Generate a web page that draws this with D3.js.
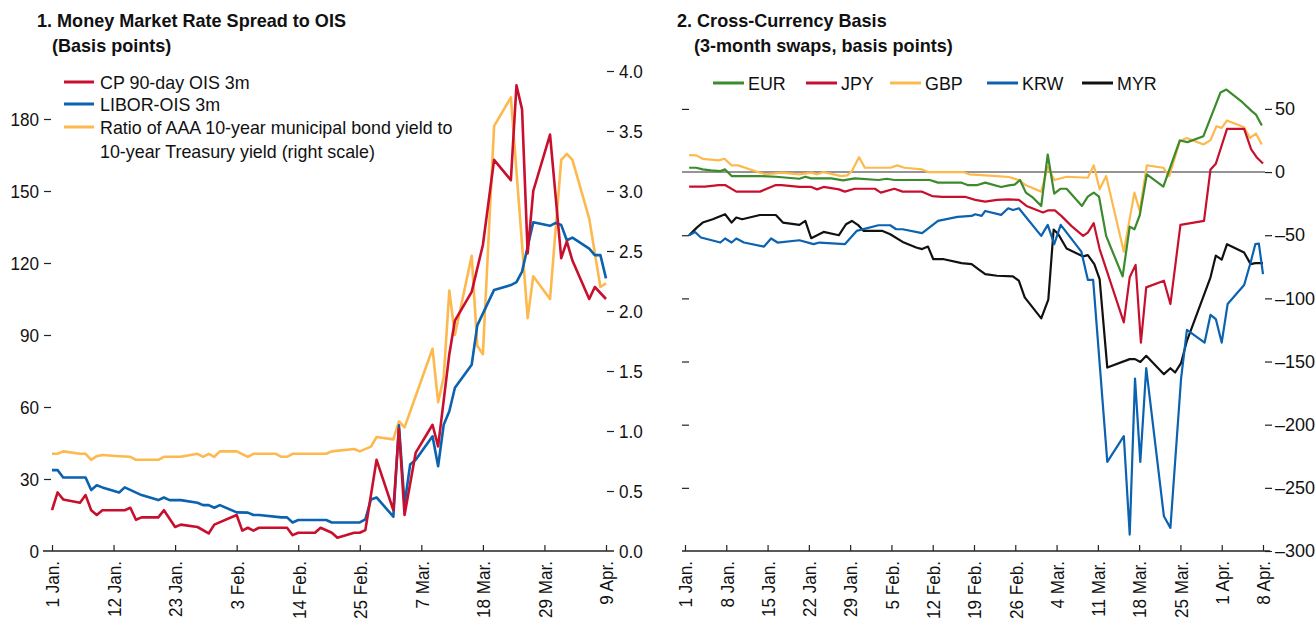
<!DOCTYPE html>
<html>
<head>
<meta charset="utf-8">
<script src="https://cdn.jsdelivr.net/npm/d3@7"></script>
<style>
  body { margin: 0; background: #fff; }
  svg text { font-family: "Liberation Sans", Arial, sans-serif; fill: #111; }
  .title { font-weight: bold; font-size: 19px; }
  .tick text { font-size: 19px; }
  .tick line { stroke: #222; stroke-width: 1.2; }
  .legend { font-size: 19px; }
  .ccRight .tick text { font-size: 18px; }
</style>
</head>
<body>
<div id="chart"></div>
<script>
// ---- panel 1: days counted from 1 Jan 2020 ----
var mmTickDays = [0, 11, 22, 33, 44, 55, 66, 77, 88, 99];
var mmTickLabels = ['1 Jan.', '12 Jan.', '23 Jan.', '3 Feb.', '14 Feb.', '25 Feb.', '7 Mar.', '18 Mar.', '29 Mar.', '9 Apr.'];

var cpDay = [0,1,2,5,6,7,8,9,13,14,15,16,19,20,22,23,26,28,29,33,34,35,36,37,42,43,44,47,48,50,51,54,55,56,58,61,62,63,65,68,69,71,72,75,77,79,82,83,84,85,86,89,91,92,93,96,97,99];
var cpVal = [17,24.4,21.5,20.1,23.3,17,15,17,17,18,13,14,14,17,10,11,10,7.3,11,15,8.5,9.7,8.5,9.7,9.7,6.6,7.6,7.6,9.7,7.6,5.5,7.6,7.6,8.7,38,17,51,15,41,52.6,43.6,82,96,108,127.5,163,154.5,194,184,124,150,173.5,122,129,121,105,110,105];

var liborDay = [0,1,2,6,7,8,9,12,13,16,19,20,21,23,26,27,28,29,30,33,35,36,37,41,42,43,44,49,50,55,56,57,58,61,62,63,64,65,68,69,70,71,72,75,76,79,82,83,84,85,86,89,90,91,92,93,96,97,98,99];
var liborVal = [33.7,33.7,30.6,30.6,25.4,27.4,26.5,24.4,26.5,23.3,21.2,22.3,21.2,21.2,20.1,19.1,19.1,18,19.1,16.1,16,15,15,14,14,11.9,12.9,12.9,11.9,11.9,13.2,21.5,22.3,14.3,52.4,19.4,36,38,47.8,35.3,52.6,58.2,68,77.6,94,108.8,110.8,112,116.4,126.8,137,135.5,136.7,135.8,129.5,130.6,126,123.3,123.3,113.6];

var ratioDay = [0,1,2,5,6,7,8,9,12,14,15,19,20,23,26,27,28,29,30,33,35,36,40,41,42,43,49,50,54,55,57,58,61,62,63,68,69,70,71,72,75,76,77,79,82,85,86,89,91,92,93,96,98,99];
var ratioVal = [0.81,0.81,0.83,0.81,0.81,0.76,0.79,0.8,0.79,0.785,0.76,0.76,0.785,0.785,0.81,0.785,0.81,0.785,0.83,0.83,0.785,0.81,0.81,0.785,0.785,0.81,0.81,0.83,0.85,0.83,0.87,0.95,0.93,1.08,1.03,1.685,1.24,1.45,2.17,1.8,2.46,1.71,1.64,3.54,3.78,1.94,2.29,2.1,3.26,3.31,3.26,2.77,2.2,2.23];

var mmNames = ['CP 90-day OIS 3m', 'LIBOR-OIS 3m', 'Ratio of AAA 10-year municipal bond yield to', '10-year Treasury yield (right scale)'];
var mmLeftTicks = [0, 30, 60, 90, 120, 150, 180];
var mmRightTicks = [0, 0.5, 1, 1.5, 2, 2.5, 3, 3.5, 4];

// ---- panel 2 ----
var ccTickDays = [0, 7, 14, 21, 28, 35, 42, 49, 56, 63, 70, 77, 84, 91, 98];
var ccTickLabels = ['1 Jan.', '8 Jan.', '15 Jan.', '22 Jan.', '29 Jan.', '5 Feb.', '12 Feb.', '19 Feb.', '26 Feb.', '4 Mar.', '11 Mar.', '18 Mar.', '25 Mar.', '1 Apr.', '8 Apr.'];
var ccTicks = [-300, -250, -200, -150, -100, -50, 0, 50];
var ccNames = ['EUR', 'JPY', 'GBP', 'KRW', 'MYR'];

var eurDay = [0.7,1.9,3,4.4,6,6.8,7.9,12.7,15.4,19.4,20.4,21.4,24.8,26.8,28.8,32.8,34.2,35.5,41.5,42.9,46.9,47.9,49.6,50.9,53.6,54.9,55.9,56.8,57.8,59,60.4,61.5,62.6,63.7,64.7,67.3,68.3,69.3,70.2,71.4,74.2,75.4,76.2,77.1,78.3,81.1,83.9,85.2,87.9,90.8,91.8,94.5,96.1,96.8,97.8];
var eurVal = [3.4,3.4,2.1,1.3,0.8,2.1,-3.2,-3.2,-3.7,-5.3,-3.7,-5,-5,-6.6,-5,-6.3,-5.3,-6.3,-6.3,-8.4,-8.4,-10.3,-10.3,-8.4,-11.8,-10.5,-10,-6.3,-16.3,-20.3,-26.8,13.9,-17.1,-13.2,-13.2,-26.8,-19.5,-16.3,-19.5,-50.5,-82.6,-43.2,-45.3,-34.2,-1.8,-11.6,25,23.7,28.4,63,65.3,55.3,48.2,45.5,36.8];

var jpyDay = [0.7,3.4,5.7,6.8,8.7,12.7,15.4,16.4,19.4,21.4,22.4,23.5,26.1,27.1,28.8,32.2,33.2,35.5,36.9,40.2,41.9,43.6,47.6,49.2,50.9,52.9,54.9,56.6,57.9,60.7,61.6,62.7,63.8,65.5,67.5,68.3,69.3,70.3,74.4,75.4,76.4,77.3,78.2,81.2,82.3,84,88,89.1,90,91.9,94.8,96,97,98];
var jpyVal = [-11.6,-11.6,-10.3,-10.3,-15.5,-15.5,-10.3,-10.3,-11.8,-11.8,-13.7,-11.8,-13.7,-15.5,-13.2,-13.2,-16.3,-13.2,-15.5,-15.5,-19,-19.7,-19.7,-22,-23.4,-22,-21.6,-22,-26.8,-32,-30.3,-30.3,-34.7,-42.6,-50.5,-47.9,-40.5,-61,-119,-83.3,-73.5,-135,-91.3,-86,-104.5,-41.8,-38.7,2.1,6.6,34.2,34.2,17.9,11.3,6.8];

var gbpDay = [0.7,1.9,3,5.7,6.7,7.9,9,12.7,13.7,16.4,19.4,21.4,22.4,23.5,26.5,27.5,28.3,29.5,30.5,34.8,36,37.2,40.2,41.2,47.2,48.2,52.9,54.9,56.6,57.8,60.4,61.5,62.6,64.7,68.3,69.3,70.3,71.4,74.4,76.2,77.1,78.3,81.1,82.1,83.9,85.1,87.9,89.1,90.1,91,91.9,94.8,95.8,96.8,97.8];
var gbpVal = [13.4,13.2,10.5,9.2,10.5,5.3,5.3,-0.5,-1.8,-0.5,-1.8,-0.5,-1.8,0,-3.2,-2.6,0.8,11.8,3.4,3.4,5.3,3.4,2.1,0,0,-1.8,-3.2,-3.9,-6.3,-10.5,-15.5,4.2,-6.3,-3.7,-4.5,5.3,-13.7,-3.2,-63,-16.3,-30.8,5.3,3.4,-3.2,24.5,27,21.8,25.3,36.3,35,40.8,35.5,27,30.5,21.8];

var krwDay = [0.7,1.7,2.7,6,6.8,7.9,8.7,10,13.4,14.6,15.7,19.4,21.8,22.8,27.1,29.1,32.8,34.8,35.8,36.9,40.2,42.9,46.2,48.6,49.2,50.3,50.9,53.6,54.8,55.6,56.6,60.4,61.5,62.6,63.7,67.2,68.3,69.2,71.6,74.4,75.4,76.3,77.2,78.2,81.2,82.3,84.1,85.1,88.1,89.1,90,91,92,94.8,95.9,96.7,97.3,98];
var krwVal = [-50,-47.4,-51.8,-55.8,-52.6,-55.8,-52.6,-55.8,-59,-52.6,-55.8,-54,-57.1,-55.8,-57.1,-46.6,-42.1,-42.1,-45.3,-45.3,-48.4,-38.7,-35.5,-34.7,-33.4,-34.7,-30.8,-33.9,-28.7,-30,-28.7,-50.5,-41.8,-57.1,-41.8,-63,-85.3,-85.3,-229.4,-209,-287,-163.5,-229.4,-155.3,-272.5,-281.7,-164,-125,-135,-113,-116.4,-135,-104.5,-89.4,-71.6,-57.1,-56.6,-80.8];

var myrDay = [0.7,2,3,4.7,6.8,7.9,8.7,9.7,12.7,15.4,16.6,19.4,20.4,21.4,23.5,26.1,27.3,28.3,29.3,30.3,33.5,34.8,36.9,39.2,40.2,41.2,42.1,43.9,46.9,48.6,49.9,50.9,52.9,55.6,56.6,57.6,60.4,61.6,62.5,63.3,64.7,67.5,68.3,69.4,70.3,71.6,75.4,76.3,77.2,78.2,81.2,82.3,83.1,84.1,85.1,89.1,90,91,91.9,94.8,95.9,96.7,98];
var myrVal = [-50,-44,-40,-37.4,-33.4,-40,-36,-37.4,-34,-34,-40,-41.8,-38.7,-52.4,-47.4,-50,-41.3,-38.7,-41.8,-46.6,-46.6,-49.2,-55.3,-59.7,-61,-59,-69,-69,-72.1,-72.9,-77.4,-80.8,-82.1,-82.6,-86,-99.2,-115.8,-101,-45.5,-49.2,-60.5,-66.8,-65.8,-72.9,-84.7,-154.8,-148.1,-148.1,-150.3,-145.5,-160,-155.3,-158.7,-151.3,-133.6,-83.3,-66.1,-69.3,-57.1,-63.7,-72.9,-72.1,-72.1];

var red = '#c8102e', blue = '#0a62b0', yellow = '#fdb94e', green = '#3b8a2c', black = '#111';

var svg = d3.select('#chart').append('svg')
    .attr('width', 1316)
    .attr('height', 620);

function pairs(days, vals){ return days.map(function(d, i){ return [d, vals[i]]; }); }

// the original uses a slightly narrower face; squeeze the glyphs a little
function squeeze(sel, k){
    sel.each(function(){
        var w = this.getComputedTextLength();
        d3.select(this).attr('textLength', w * k).attr('lengthAdjust', 'spacingAndGlyphs');
    });
}

function dateAxis(g, x, tickDays, tickLabels, x0, x1){
    g.append('line')
        .attr('x1', x0).attr('x2', x1)
        .attr('y1', 0).attr('y2', 0)
        .attr('stroke', '#222').attr('stroke-width', 1.3);
    g.call(d3.axisBottom(x).tickValues(tickDays).tickSizeInner(-6).tickSizeOuter(0)
            .tickFormat(function(d, i){ return tickLabels[i]; }));
    g.select('.domain').remove();
    g.selectAll('.tick text')
        .attr('transform', 'rotate(-90)')
        .attr('x', -10).attr('y', 0).attr('dy', '0.36em')
        .style('text-anchor', 'end');
}

// ================= chart 1 =================
var xL = d3.scaleLinear().domain([0, 99]).range([52, 606]);
var yL = d3.scaleLinear().domain([0, 200]).range([551, 71]);
var yR = d3.scaleLinear().domain([0, 4]).range([551, 71]);

var c1 = svg.append('g');
c1.append('text').attr('class', 'title').attr('x', 37).attr('y', 27).text('1. Money Market Rate Spread to OIS');
c1.append('text').attr('class', 'title').attr('x', 52).attr('y', 52).text('(Basis points)');

var gl = c1.append('g').attr('transform', 'translate(51,0)')
    .call(d3.axisLeft(yL).tickValues(mmLeftTicks).tickSize(7).tickPadding(5));
gl.select('.domain').remove();
gl.selectAll('.tick').filter(function(d){ return d === 0; }).select('line').remove();

var gr = c1.append('g').attr('transform', 'translate(607,0)')
    .call(d3.axisRight(yR).tickValues(mmRightTicks).tickSize(7).tickPadding(5).tickFormat(d3.format('.1f')));
gr.select('.domain').remove();
gr.selectAll('.tick').filter(function(d){ return d === 0; }).select('line').remove();

dateAxis(c1.append('g').attr('transform', 'translate(0,551)'), xL, mmTickDays, mmTickLabels, 43, 614);

var lineL = d3.line().x(function(d){ return xL(d[0]); }).y(function(d){ return yL(d[1]); });
var lineR = d3.line().x(function(d){ return xL(d[0]); }).y(function(d){ return yR(d[1]); });

c1.append('path').datum(pairs(ratioDay, ratioVal)).attr('d', lineR)
    .attr('fill', 'none').attr('stroke', yellow).attr('stroke-width', 2.6).attr('stroke-linejoin', 'round');
c1.append('path').datum(pairs(liborDay, liborVal)).attr('d', lineL)
    .attr('fill', 'none').attr('stroke', blue).attr('stroke-width', 2.6).attr('stroke-linejoin', 'round');
c1.append('path').datum(pairs(cpDay, cpVal)).attr('d', lineL)
    .attr('fill', 'none').attr('stroke', red).attr('stroke-width', 2.6).attr('stroke-linejoin', 'round');

// legend 1
var leg1 = [{c: red, t: mmNames[0], y: 82}, {c: blue, t: mmNames[1], y: 104}, {c: yellow, t: mmNames[2], y: 127}];
leg1.forEach(function(d){
    c1.append('line').attr('x1', 64).attr('x2', 94).attr('y1', d.y).attr('y2', d.y)
        .attr('stroke', d.c).attr('stroke-width', 3);
    c1.append('text').attr('class', 'legend').attr('x', 100).attr('y', d.y + 7).text(d.t);
});
c1.append('text').attr('class', 'legend').attr('x', 100).attr('y', 158).text(mmNames[3]);

// ================= chart 2 =================
var xC = d3.scaleLinear().domain([0, 98]).range([685, 1263]);
var yC = d3.scaleLinear().domain([-300, 80]).range([551, 71]);

var c2 = svg.append('g');
c2.append('text').attr('class', 'title').attr('x', 677).attr('y', 27).text('2. Cross-Currency Basis');
c2.append('text').attr('class', 'title').attr('x', 694).attr('y', 52).text('(3-month swaps, basis points)');

// left side ticks without labels
var gcl = c2.append('g').attr('transform', 'translate(682,0)')
    .call(d3.axisRight(yC).tickValues(ccTicks.filter(function(d){ return d !== 0 && d !== -300; })).tickSize(7).tickFormat(''));
gcl.select('.domain').remove();

var gcr = c2.append('g').attr('class', 'ccRight').attr('transform', 'translate(1265,0)')
    .call(d3.axisRight(yC).tickValues(ccTicks).tickSize(7).tickPadding(3)
        .tickFormat(function(d){ return d < 0 ? '\u2013' + Math.abs(d) : d; }));
gcr.select('.domain').remove();

c2.append('line').attr('x1', 682).attr('x2', 1265).attr('y1', yC(0)).attr('y2', yC(0))
    .attr('stroke', '#707070').attr('stroke-width', 1.6);

dateAxis(c2.append('g').attr('transform', 'translate(0,551)'), xC, ccTickDays, ccTickLabels, 682, 1270);

var lineC = d3.line().x(function(d){ return xC(d[0]); }).y(function(d){ return yC(d[1]); });
var ccSeries = [
    {n: ccNames[4], c: black, d: pairs(myrDay, myrVal)},
    {n: ccNames[3], c: blue, d: pairs(krwDay, krwVal)},
    {n: ccNames[2], c: yellow, d: pairs(gbpDay, gbpVal)},
    {n: ccNames[1], c: red, d: pairs(jpyDay, jpyVal)},
    {n: ccNames[0], c: green, d: pairs(eurDay, eurVal)}
];
ccSeries.forEach(function(s){
    c2.append('path').datum(s.d).attr('d', lineC)
        .attr('fill', 'none').attr('stroke', s.c).attr('stroke-width', 2.2).attr('stroke-linejoin', 'round');
});

// legend 2
var leg2x = [713, 806, 890, 987, 1082];
var leg2c = [green, red, yellow, blue, black];
ccNames.forEach(function(n, i){
    c2.append('line').attr('x1', leg2x[i]).attr('x2', leg2x[i] + 31).attr('y1', 83).attr('y2', 83)
        .attr('stroke', leg2c[i]).attr('stroke-width', 3);
    c2.append('text').attr('class', 'legend').attr('x', leg2x[i] + 35).attr('y', 90).text(n);
});

svg.selectAll('.tick text').filter(function(){ return !this.closest('.ccRight'); }).call(squeeze, 0.9);
squeeze(svg.selectAll('.legend'), 0.94);
squeeze(svg.selectAll('.title'), 0.95);
</script>
</body>
</html>
